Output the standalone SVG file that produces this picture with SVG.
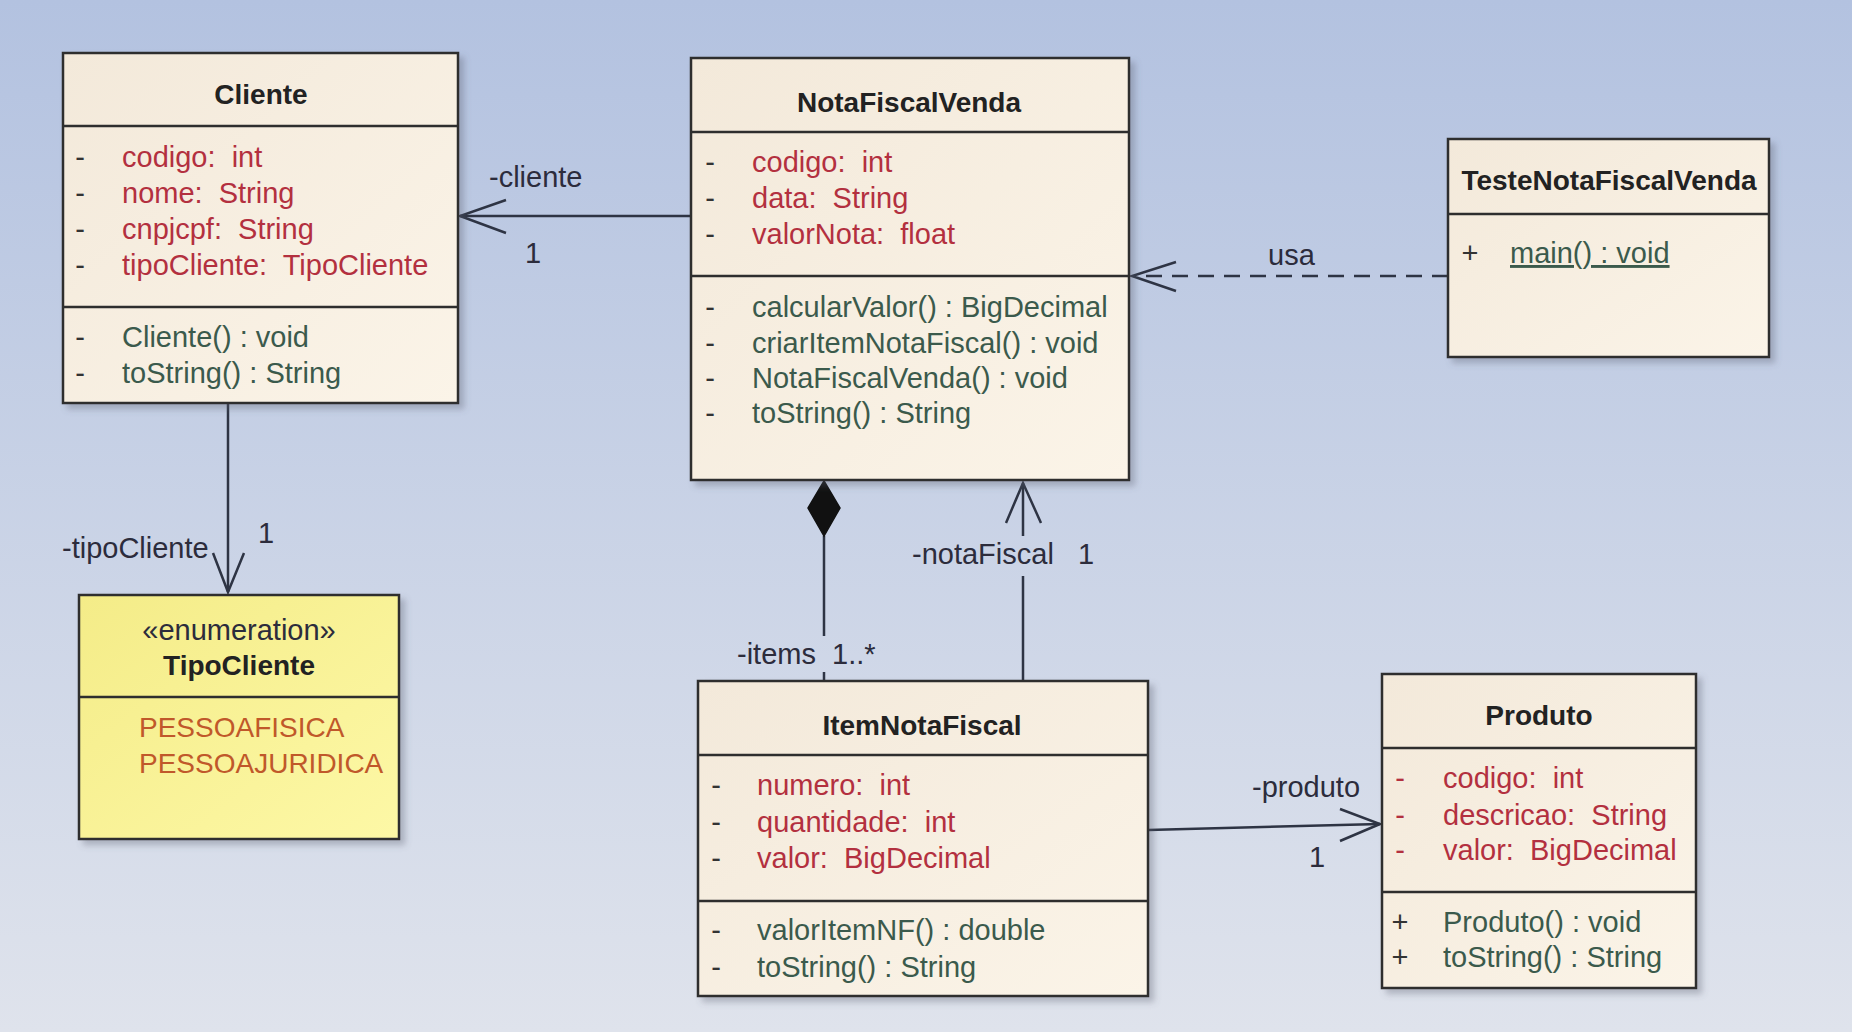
<svg xmlns="http://www.w3.org/2000/svg" width="1852" height="1032" viewBox="0 0 1852 1032">
<defs>
<linearGradient id="bg" x1="0" y1="0" x2="0" y2="1">
<stop offset="0" stop-color="#b3c2e0"/>
<stop offset="1" stop-color="#dfe3ec"/>
</linearGradient>
<linearGradient id="cream" x1="0" y1="0" x2="1" y2="1">
<stop offset="0" stop-color="#f3e9da"/>
<stop offset="1" stop-color="#fbf4e8"/>
</linearGradient>
<linearGradient id="yellow" x1="0" y1="0" x2="1" y2="1">
<stop offset="0" stop-color="#f4ec88"/>
<stop offset="1" stop-color="#fdf8a6"/>
</linearGradient>
<filter id="sh" x="-5%" y="-5%" width="115%" height="115%">
<feDropShadow dx="5" dy="5" stdDeviation="3" flood-color="#5a6070" flood-opacity="0.35"/>
</filter>
<style>
.box{fill:url(#cream);stroke:#2e2e2e;stroke-width:2.5;filter:url(#sh)}
.enum{fill:url(#yellow);stroke:#2e2e2e;stroke-width:2.5;filter:url(#sh)}
.div{stroke:#2e2e2e;stroke-width:2.5}
text{font-family:"Liberation Sans",Arial,sans-serif;font-size:29px}
.title{font-weight:bold;fill:#222;text-anchor:middle;font-size:28px}
.attr{fill:#b3303f;white-space:pre}
.meth{fill:#3b5a4c}
.vis{fill:#333;text-anchor:middle}
.visr{fill:#b3303f;text-anchor:middle}
.lit{fill:#c0582a;font-size:28px}
.lbl{fill:#2c2c3c}
.conn{fill:none;stroke:#2e3444;stroke-width:2.5}
</style>
</defs>
<rect width="1852" height="1032" fill="url(#bg)"/>

<g id="connectors">
<path class="conn" d="M691,216 L460,216"/>
<path class="conn" d="M506,200 L460,216 L506,233"/>
<text class="lbl" x="489" y="187">-cliente</text>
<text class="lbl" x="525" y="263">1</text>
<path class="conn" d="M228,403 L228,592"/>
<path class="conn" d="M213,553 L228,592 L244,553"/>
<text class="lbl" x="62" y="558">-tipoCliente</text>
<text class="lbl" x="258" y="543">1</text>
<path class="conn" d="M1448,276 L1135,276" stroke-dasharray="16,10"/>
<path class="conn" d="M1176,262 L1132,276 L1176,291"/>
<text class="lbl" x="1268" y="265">usa</text>
<path class="conn" d="M824,536 L824,636 M824,672 L824,681"/>
<path d="M824,481 L840,508 L824,536 L808,508 Z" fill="#111" stroke="#111" stroke-width="1.5"/>
<text class="lbl" x="737" y="664">-items</text>
<text class="lbl" x="832" y="664">1..*</text>
<path class="conn" d="M1023,681 L1023,576 M1023,536 L1023,483"/>
<path class="conn" d="M1006,523 L1023,483 L1041,523"/>
<text class="lbl" x="912" y="564">-notaFiscal</text>
<text class="lbl" x="1078" y="564">1</text>
<path class="conn" d="M1148,830 L1380,824"/>
<path class="conn" d="M1340,809 L1380,824 L1340,841"/>
<text class="lbl" x="1252" y="797">-produto</text>
<text class="lbl" x="1309" y="867">1</text>
</g>

<g id="Cliente">
<rect class="box" x="63" y="53" width="395" height="350"/>
<line class="div" x1="63" y1="126" x2="458" y2="126"/>
<line class="div" x1="63" y1="307" x2="458" y2="307"/>
<text class="title" x="261" y="104">Cliente</text>
<text class="vis" x="80" y="167">-</text>
<text class="vis" x="80" y="203">-</text>
<text class="vis" x="80" y="239">-</text>
<text class="vis" x="80" y="275">-</text>
<text class="attr" x="122" y="167" xml:space="preserve">codigo:  int</text>
<text class="attr" x="122" y="203" xml:space="preserve">nome:  String</text>
<text class="attr" x="122" y="239" xml:space="preserve">cnpjcpf:  String</text>
<text class="attr" x="122" y="275" xml:space="preserve">tipoCliente:  TipoCliente</text>
<text class="vis" x="80" y="347">-</text>
<text class="vis" x="80" y="383">-</text>
<text class="meth" x="122" y="347">Cliente() : void</text>
<text class="meth" x="122" y="383">toString() : String</text>
</g>

<g id="NotaFiscalVenda">
<rect class="box" x="691" y="58" width="438" height="422"/>
<line class="div" x1="691" y1="132" x2="1129" y2="132"/>
<line class="div" x1="691" y1="276" x2="1129" y2="276"/>
<text class="title" x="909" y="112">NotaFiscalVenda</text>
<text class="vis" x="710" y="172">-</text>
<text class="vis" x="710" y="208">-</text>
<text class="vis" x="710" y="244">-</text>
<text class="attr" x="752" y="172" xml:space="preserve">codigo:  int</text>
<text class="attr" x="752" y="208" xml:space="preserve">data:  String</text>
<text class="attr" x="752" y="244" xml:space="preserve">valorNota:  float</text>
<text class="vis" x="710" y="317">-</text>
<text class="vis" x="710" y="353">-</text>
<text class="vis" x="710" y="388">-</text>
<text class="vis" x="710" y="423">-</text>
<text class="meth" x="752" y="317">calcularValor() : BigDecimal</text>
<text class="meth" x="752" y="353">criarItemNotaFiscal() : void</text>
<text class="meth" x="752" y="388">NotaFiscalVenda() : void</text>
<text class="meth" x="752" y="423">toString() : String</text>
</g>

<g id="TesteNotaFiscalVenda">
<rect class="box" x="1448" y="139" width="321" height="218"/>
<line class="div" x1="1448" y1="214" x2="1769" y2="214"/>
<text class="title" x="1609" y="190">TesteNotaFiscalVenda</text>
<text class="vis" x="1470" y="263">+</text>
<text class="meth" x="1510" y="263" text-decoration="underline">main() : void</text>
</g>

<g id="TipoCliente">
<rect class="enum" x="79" y="595" width="320" height="244"/>
<line class="div" x1="79" y1="697" x2="399" y2="697"/>
<text class="lbl" x="239" y="640" text-anchor="middle" font-size="26">«enumeration»</text>
<text class="title" x="239" y="675">TipoCliente</text>
<text class="lit" x="139" y="737">PESSOAFISICA</text>
<text class="lit" x="139" y="773">PESSOAJURIDICA</text>
</g>

<g id="ItemNotaFiscal">
<rect class="box" x="698" y="681" width="450" height="315"/>
<line class="div" x1="698" y1="755" x2="1148" y2="755"/>
<line class="div" x1="698" y1="901" x2="1148" y2="901"/>
<text class="title" x="922" y="735">ItemNotaFiscal</text>
<text class="vis" x="716" y="795">-</text>
<text class="vis" x="716" y="832">-</text>
<text class="vis" x="716" y="868">-</text>
<text class="attr" x="757" y="795" xml:space="preserve">numero:  int</text>
<text class="attr" x="757" y="832" xml:space="preserve">quantidade:  int</text>
<text class="attr" x="757" y="868" xml:space="preserve">valor:  BigDecimal</text>
<text class="vis" x="716" y="940">-</text>
<text class="vis" x="716" y="977">-</text>
<text class="meth" x="757" y="940">valorItemNF() : double</text>
<text class="meth" x="757" y="977">toString() : String</text>
</g>

<g id="Produto">
<rect class="box" x="1382" y="674" width="314" height="314"/>
<line class="div" x1="1382" y1="748" x2="1696" y2="748"/>
<line class="div" x1="1382" y1="892" x2="1696" y2="892"/>
<text class="title" x="1539" y="725">Produto</text>
<text class="visr" x="1400" y="788">-</text>
<text class="visr" x="1400" y="825">-</text>
<text class="visr" x="1400" y="860">-</text>
<text class="attr" x="1443" y="788" xml:space="preserve">codigo:  int</text>
<text class="attr" x="1443" y="825" xml:space="preserve">descricao:  String</text>
<text class="attr" x="1443" y="860" xml:space="preserve">valor:  BigDecimal</text>
<text class="vis" x="1400" y="932">+</text>
<text class="vis" x="1400" y="967">+</text>
<text class="meth" x="1443" y="932">Produto() : void</text>
<text class="meth" x="1443" y="967">toString() : String</text>
</g>
</svg>
